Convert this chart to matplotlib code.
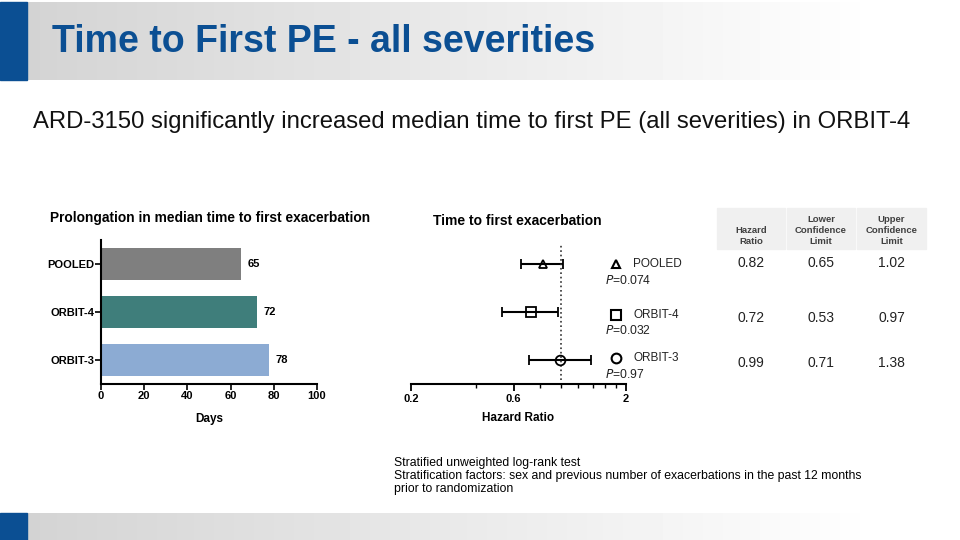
import numpy as np
import matplotlib
matplotlib.use('Agg')
import matplotlib.pyplot as plt
from matplotlib.ticker import FixedLocator, NullFormatter

plt.rcParams['font.family'] = ['Liberation Sans', 'DejaVu Sans']

# data
groups = ['POOLED', 'ORBIT-4', 'ORBIT-3']
days = [65, 72, 78]
bar_colors = ['#7f7f7f', '#3f7e7b', '#8cabd3']
hr = [0.82, 0.72, 0.99]
hr_low = [0.65, 0.53, 0.71]
hr_high = [1.02, 0.97, 1.38]
p_values = ['0.074', '0.032', '0.97']
markers = ['^', 's', 'o']
table_head = ['Hazard\nRatio', 'Lower\nConfidence\nLimit', 'Upper\nConfidence\nLimit']

W, H = 960, 540
fig = plt.figure(figsize=(9.6, 5.4), dpi=100)


def rect(x0, y0, x1, y1):
    # pixel box -> figure fraction
    return [x0 / W, 1 - y1 / H, (x1 - x0) / W, (y1 - y0) / H]


# background bands
bg = fig.add_axes([0, 0, 1, 1])
bg.axis('off')
grad = np.linspace(0.83, 1.0, 256)
g_img = np.tile(grad, (2, 1))
bg.imshow(g_img, cmap='gray', vmin=0, vmax=1, extent=[27, 880, 80, 2], aspect='auto')
bg.imshow(g_img, cmap='gray', vmin=0, vmax=1, extent=[27, 880, 540, 513], aspect='auto')
bg.add_patch(plt.Rectangle((0, 2), 27, 78, color='#0b4f93'))
bg.add_patch(plt.Rectangle((0, 513), 27, 27, color='#0b4f93'))
bg.set_xlim(0, W)
bg.set_ylim(H, 0)

bg.text(52, 42, 'Time to First PE - all severities', fontsize=27, fontweight='bold',
        color='#0b4f93', va='center', ha='left')
bg.text(33, 122, 'ARD-3150 significantly increased median time to first PE (all severities) in ORBIT-4',
        fontsize=17.2, va='center', ha='left', color='#111111')
bg.text(394, 476, 'Stratified unweighted log-rank test\n'
        'Stratification factors: sex and previous number of exacerbations in the past 12 months\n'
        'prior to randomization', fontsize=8.8, va='center', ha='left', linespacing=1.15)

# bar chart
ax = fig.add_axes(rect(101, 240, 317, 384))
ax.patch.set_alpha(0)
ypos = np.arange(len(groups))
ax.barh(ypos, days, height=0.68, color=bar_colors)
for y, v in zip(ypos, days):
    ax.text(v + 3, y, str(v), va='center', ha='left', fontsize=8, fontweight='bold')
ax.set_ylim(2.5, -0.5)
ax.set_xlim(0, 100)
ax.set_yticks(ypos)
ax.set_yticklabels(groups, fontweight='bold', fontsize=8)
ax.set_xticks(np.arange(0, 101, 20))
ax.set_xticklabels([str(t) for t in range(0, 101, 20)], fontweight='bold', fontsize=8)
ax.set_xlabel('Days', fontweight='bold', fontsize=8.5, labelpad=9)
ax.spines['top'].set_visible(False)
ax.spines['right'].set_visible(False)
ax.spines['left'].set_linewidth(1.5)
ax.spines['bottom'].set_linewidth(1.5)
ax.tick_params(width=1.2, length=4, pad=1)
bg.text(50, 218, 'Prolongation in median time to first exacerbation', fontsize=9.9,
        fontweight='bold', va='center', ha='left')

# forest plot
fx = fig.add_axes(rect(411, 240, 626, 384))
fx.patch.set_alpha(0)
fx.set_xscale('log')
fx.set_xlim(0.2, 2)
fx.set_ylim(2.5, -0.5)
for i in range(len(groups)):
    fx.errorbar(hr[i], i, xerr=[[hr[i] - hr_low[i]], [hr_high[i] - hr[i]]], fmt=markers[i],
                mfc='none', mec='black', mew=1.3, ms=7 if markers[i] != '^' else 6,
                ecolor='black', elinewidth=1.5, capsize=3.5, capthick=1.3, color='black')
fx.axvline(1, color='#333333', ls=':', lw=1.2, ymin=0.03, ymax=0.97)
fx.xaxis.set_major_locator(FixedLocator([0.2, 0.6, 2]))
fx.xaxis.set_minor_locator(FixedLocator([0.4, 0.8, 1.0, 1.2, 1.4, 1.6, 1.8]))
fx.xaxis.set_minor_formatter(NullFormatter())
fx.set_xticklabels(['0.2', '0.6', '2'], fontweight='bold', fontsize=8)
fx.tick_params(axis='x', which='major', width=1.3, length=5, pad=2)
fx.tick_params(axis='x', which='minor', width=1.0, length=3)
fx.set_yticks([])
for s in ['top', 'right', 'left']:
    fx.spines[s].set_visible(False)
fx.spines['bottom'].set_linewidth(1.5)
fx.set_xlabel('Hazard Ratio', fontweight='bold', fontsize=8.5, labelpad=6)
bg.text(433, 221, 'Time to first exacerbation', fontsize=10, fontweight='bold',
        va='center', ha='left')

# legend-like labels
row_y = [264, 315, 358]
p_y = [281, 330, 375]
for i in range(len(groups)):
    bg.plot(616, row_y[i], marker=markers[i], mfc='none', mec='black', mew=1.5,
            ms=7 if markers[i] != '^' else 5.5)
    bg.text(633, row_y[i], groups[i], fontsize=8.5, va='center', ha='left', color='#222222')
    bg.text(605, p_y[i], '$P$=' + p_values[i], fontsize=8.7, va='center', ha='left',
            color='#222222')

# table
cols_x = [(717, 785), (787, 855), (857, 926)]
for (x0, x1), head in zip(cols_x, table_head):
    bg.add_patch(plt.Rectangle((x0, 208), x1 - x0, 41, color='#f0f0f0'))
    bg.text((x0 + x1) / 2, 246, head, fontsize=6.8, fontweight='bold', color='#404040',
            ha='center', va='bottom', linespacing=1.25)
table_vals = [hr, hr_low, hr_high]
for j, (x0, x1) in enumerate(cols_x):
    for i in range(len(groups)):
        bg.text((x0 + x1) / 2, [263, 318, 363][i], f'{table_vals[j][i]:.2f}', fontsize=10,
                ha='center', va='center', color='#222222')

fig.savefig('out.png', dpi=100)
